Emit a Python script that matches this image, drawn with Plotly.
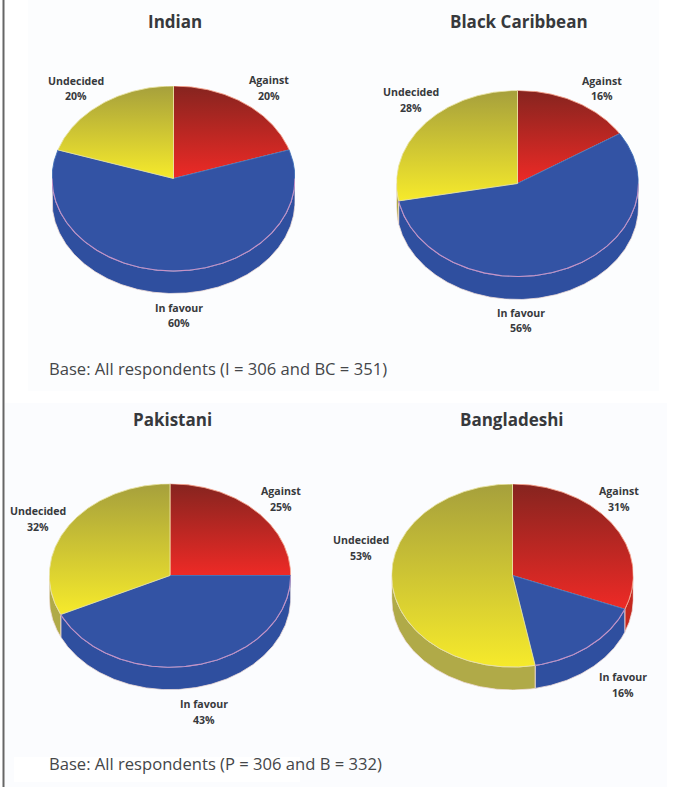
import numpy as np
import plotly.graph_objects as go

# Survey results by ethnic group (percent of respondents)
groups = ["Indian", "Black Caribbean", "Pakistani", "Bangladeshi"]
against = [20, 16, 25, 31]
in_favour = [60, 56, 43, 16]
undecided = [20, 28, 32, 53]
base_notes = [
    "Base: All respondents (I = 306 and BC = 351)",
    "Base: All respondents (P = 306 and B = 332)",
]
answers = ["Against", "In favour", "Undecided"]

W, H = 681, 787

# Pie placement in page pixels: centre x, centre y, radius x, radius y, depth
pie_boxes = [
    (173.5, 178.5, 121.5, 92.5, 22.5),
    (517.5, 183.5, 121.0, 93.0, 23.0),
    (170.0, 575.5, 120.7, 91.7, 22.5),
    (512.5, 575.5, 120.8, 91.5, 23.0),
]
title_pos = [(175, 22), (519, 22), (172, 419), (512, 419)]
# Label centres per pie, in the order of `answers`
label_pos = [
    [(269, 80), (179, 308), (76, 81)],
    [(602, 81), (521, 313), (411, 92)],
    [(281, 491), (204, 704), (38, 511)],
    [(619, 491), (623, 677), (361, 540)],
]
note_pos = [(46.5, 368), (46.5, 763)]

# Face gradients run from the low edge of a slice up to its top edge
face_scales = {
    "Against": [[0, "#ee2a26"], [1, "#86241f"]],
    "In favour": [[0, "#3353a4"], [1, "#3353a4"]],
    "Undecided": [[0, "#f6ea2b"], [1, "#a6a03c"]],
}
side_colors = {"Against": "#c4281f", "In favour": "#2f4f9f", "Undecided": "#b0aa48"}
face_edges = {"Against": "#f4a08a", "In favour": "#3f6fb8", "Undecided": "#e8e2a0"}
RIM = "#c792c6"
TEXT = "#37393c"
NOTE_TEXT = "#444649"
LABEL_FONT = "Open Sans"

fig = go.Figure()


def px_x(x):
    return x / W


def px_y(y):
    return 1 - y / H


def arc(a0, a1):
    n = max(int(abs(a1 - a0) * 1.5), 2)
    return np.radians(np.linspace(a0, a1, n))


def add_pie(index, values, box):
    cx, cy, rx, ry, depth = box
    d = depth / ry
    axis = "" if index == 0 else str(index + 1)
    xname, yname = f"x{axis}", f"y{axis}"
    fig.update_layout(
        {
            f"xaxis{axis}": dict(
                domain=[px_x(cx - rx), px_x(cx + rx)], range=[-1, 1],
                visible=False, anchor=yname, fixedrange=True,
            ),
            f"yaxis{axis}": dict(
                domain=[px_y(cy + ry + depth), px_y(cy - ry)], range=[-1 - d, 1],
                visible=False, anchor=xname, fixedrange=True,
            ),
        }
    )

    edges = np.cumsum([0] + list(values)) * 3.6

    # Visible wall of the disc: only the front half, 90 to 270 degrees clockwise from the top
    for name, a0, a1 in zip(answers, edges[:-1], edges[1:]):
        lo, hi = max(a0, 90), min(a1, 270)
        if hi <= lo:
            continue
        t = arc(lo, hi)
        xs = np.concatenate([np.sin(t), np.sin(t[::-1])])
        ys = np.concatenate([np.cos(t), np.cos(t[::-1]) - d])
        fig.add_trace(go.Scatter(
            x=np.append(xs, xs[0]), y=np.append(ys, ys[0]), xaxis=xname, yaxis=yname,
            mode="lines", fill="toself", fillcolor=side_colors[name],
            line=dict(color="#efdcd8", width=0.8), hoverinfo="skip", cliponaxis=False,
        ))

    # Top face slices
    for name, a0, a1 in zip(answers, edges[:-1], edges[1:]):
        t = arc(a0, a1)
        xs = np.concatenate([[0], np.sin(t), [0]])
        ys = np.concatenate([[0], np.cos(t), [0]])
        fig.add_trace(go.Scatter(
            x=xs, y=ys, xaxis=xname, yaxis=yname, mode="lines", fill="toself",
            fillgradient=dict(type="vertical", colorscale=face_scales[name]),
            line=dict(color=face_edges[name], width=0.9),
            name=name, hovertemplate=f"{name}: {a1 - a0:.0f} degrees<extra></extra>",
            cliponaxis=False,
        ))

    # Pale rim where the top face meets the wall
    lo, hi = max(edges[1], 90), min(edges[2], 270)
    t = arc(lo, hi)
    fig.add_trace(go.Scatter(
        x=np.sin(t), y=np.cos(t), xaxis=xname, yaxis=yname, mode="lines",
        line=dict(color=RIM, width=1.1), hoverinfo="skip", cliponaxis=False,
    ))


def add_text(text, pos, size, bold=True, anchor="center", color=TEXT):
    label = f"<b>{text}</b>" if bold else text
    fig.add_annotation(
        x=px_x(pos[0]), y=px_y(pos[1]), xref="paper", yref="paper",
        text=label, showarrow=False, xanchor=anchor, yanchor="middle",
        font=dict(family=LABEL_FONT, size=size, color=color),
    )


for i, group in enumerate(groups):
    values = [against[i], in_favour[i], undecided[i]]
    add_pie(i, values, pie_boxes[i])
    add_text(group, title_pos[i], 17)
    for name, value, (lx, ly) in zip(answers, values, label_pos[i]):
        add_text(name, (lx, ly), 10.6)
        add_text(f"{value}%", (lx, ly + 15.5), 10.6)

for note, pos in zip(base_notes, note_pos):
    add_text(note, pos, 16.6, bold=False, anchor="left", color=NOTE_TEXT)

# Faint panels behind each row and the rule down the left side
shapes = []
for x0, y0, x1, y1, color in [
    (28, 0, 659, 391, "#fcfdfe"),
    (5, 403, 667, 787, "#fbfcfe"),
    (14, 757, 300, 782, "#ffffff"),
    (2.5, 0, 4.5, 787, "#666666"),
]:
    shapes.append(dict(
        type="rect", xref="paper", yref="paper", layer="below",
        x0=px_x(x0), x1=px_x(x1), y0=px_y(y1), y1=px_y(y0),
        fillcolor=color, line=dict(width=0),
    ))

fig.update_layout(
    width=W, height=H, margin=dict(l=0, r=0, t=0, b=0),
    paper_bgcolor="#ffffff", plot_bgcolor="rgba(0,0,0,0)",
    showlegend=False, shapes=shapes,
)

fig.write_html("out.html", config={"displayModeBar": False})
